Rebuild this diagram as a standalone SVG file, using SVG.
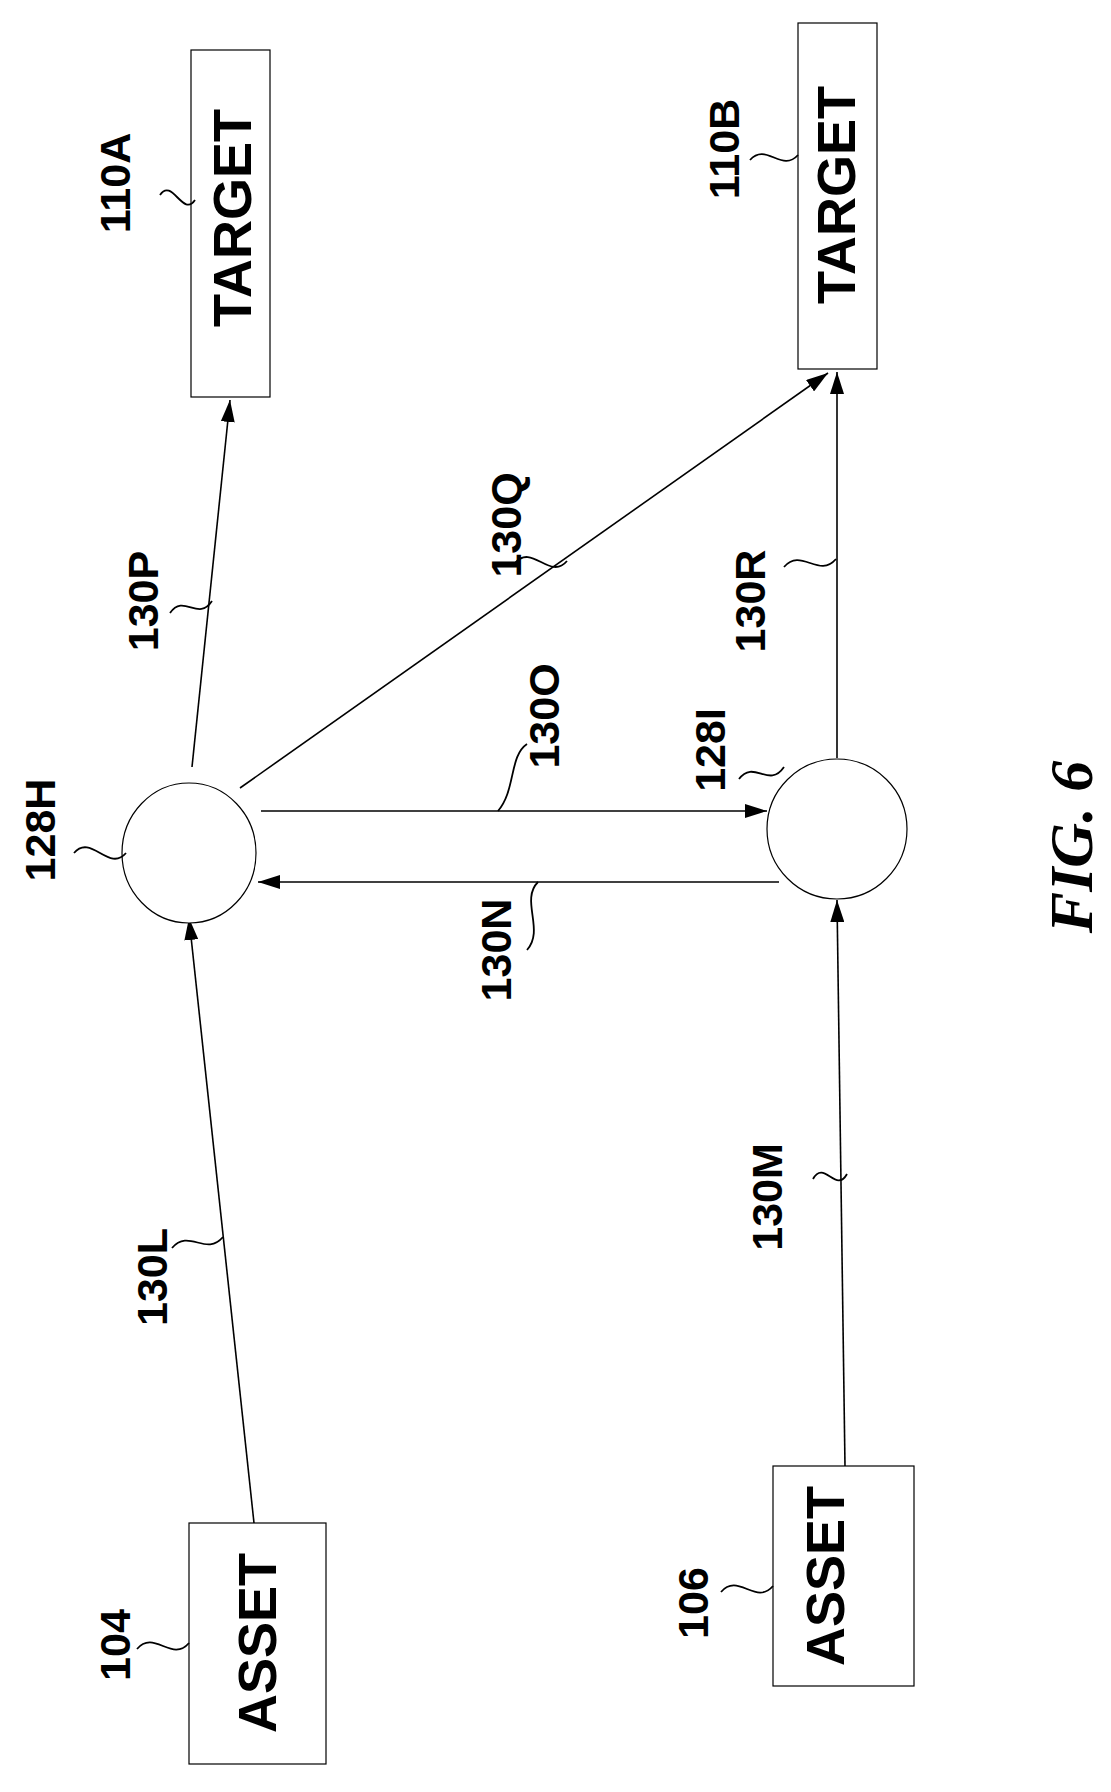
<svg xmlns="http://www.w3.org/2000/svg" width="1111" height="1792" viewBox="0 0 1111 1792">
<style>
.box{fill:#fff;stroke:#000;stroke-width:1.2}
.c{fill:#fff;stroke:#000;stroke-width:1.2}
.e{stroke:#000;stroke-width:1.6;fill:none;marker-end:url(#ah)}
.sq{stroke:#000;stroke-width:1.8;fill:none}
.big{font-family:"Liberation Sans",Arial,sans-serif;font-weight:bold;font-size:54px;text-anchor:middle;dominant-baseline:central}
.lbl{font-family:"Liberation Sans",Arial,sans-serif;font-weight:bold;font-size:43px;text-anchor:middle;dominant-baseline:central}
.fig{font-family:"Liberation Serif","Times New Roman",serif;font-style:italic;font-weight:bold;font-size:62px;text-anchor:middle;dominant-baseline:central}
</style>
<defs><marker id="ah" markerWidth="24" markerHeight="14" refX="22" refY="7" orient="auto" markerUnits="userSpaceOnUse"><path d="M0,0 L22,7 L0,14 Z" fill="#000"/></marker></defs>
<rect width="1111" height="1792" fill="#fff"/>
<g id="edges">
<line class="e" x1="192" y1="767" x2="230" y2="400"/>
<line class="e" x1="240" y1="788" x2="828" y2="373"/>
<line class="e" x1="837" y1="758" x2="837" y2="372"/>
<line class="e" x1="261" y1="811" x2="767" y2="811"/>
<line class="e" x1="779" y1="882" x2="258" y2="882"/>
<line class="e" x1="254" y1="1523" x2="189" y2="918"/>
<line class="e" x1="845" y1="1466" x2="837" y2="900"/>
<path class="sq" d="M170 613 C184 593 198 622 212 601"/>
<path class="sq" d="M515 563 C532 543 550 581 567 561"/>
<path class="sq" d="M784 567 C801 547 819 579 836 559"/>
<path class="sq" d="M527 744 C509 756 516 790 498 811"/>
<path class="sq" d="M538 882 C520 900 545 930 527 950"/>
<path class="sq" d="M172 1248 C189 1228 206 1257 223 1237"/>
<path class="sq" d="M813 1179 C824 1159 836 1194 847 1174"/>
</g>
<g id="target110A"><rect class="box" x="191" y="50" width="79" height="347"/><text class="big" transform="translate(232,218) rotate(-90)">TARGET</text><path class="sq" d="M160 195 C172 177 183 218 195 200"/><text class="lbl" transform="translate(115,183) rotate(-90)">110A</text></g>
<g id="target110B"><rect class="box" x="798" y="23" width="79" height="346"/><text class="big" transform="translate(836,195) rotate(-90)">TARGET</text><path class="sq" d="M750 160 C766 142 782 173 798 155"/><text class="lbl" transform="translate(724,149) rotate(-90)">110B</text></g>
<g id="node128H"><ellipse class="c" cx="189" cy="853" rx="67" ry="70"/><path class="sq" d="M74 853 C91 833 109 873 126 853"/><text class="lbl" transform="translate(40,830) rotate(-90)">128H</text></g>
<g id="node128I"><ellipse class="c" cx="837" cy="829" rx="70" ry="70"/><path class="sq" d="M739 779 C754 759 769 789 784 767"/><text class="lbl" transform="translate(710,750) rotate(-90)">128I</text></g>
<g id="asset104"><rect class="box" x="189" y="1523" width="137" height="241"/><text class="big" transform="translate(257,1643) rotate(-90)">ASSET</text><path class="sq" d="M137 1649 C154 1629 172 1663 189 1643"/><text class="lbl" transform="translate(115,1645) rotate(-90)">104</text></g>
<g id="asset106"><rect class="box" x="773" y="1466" width="141" height="220"/><text class="big" transform="translate(825,1576) rotate(-90)">ASSET</text><path class="sq" d="M721 1592 C738 1572 756 1606 773 1586"/><text class="lbl" transform="translate(693,1603) rotate(-90)">106</text></g>
<g id="labels">
<text class="lbl" transform="translate(143,601) rotate(-90)">130P</text>
<text class="lbl" transform="translate(506,525) rotate(-90)">130Q</text>
<text class="lbl" transform="translate(750,601) rotate(-90)">130R</text>
<text class="lbl" transform="translate(544,716) rotate(-90)">130O</text>
<text class="lbl" transform="translate(496,950) rotate(-90)">130N</text>
<text class="lbl" transform="translate(152,1277) rotate(-90)">130L</text>
<text class="lbl" transform="translate(767,1197) rotate(-90)">130M</text>
<text class="fig" transform="translate(1071,847) rotate(-90)">FIG. 6</text>
</g>
</svg>
